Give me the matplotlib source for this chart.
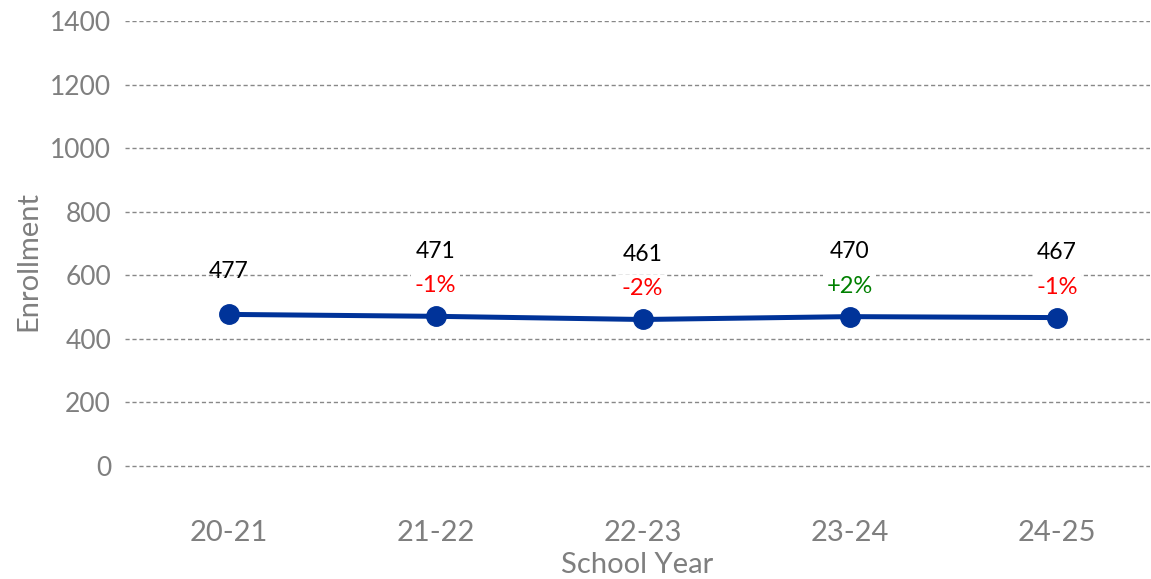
import matplotlib
matplotlib.use("Agg")
import matplotlib.pyplot as plt

years = ["20-21", "21-22", "22-23", "23-24", "24-25"]
enrollment = [477, 471, 461, 470, 467]
pct_change = [None, "-1%", "-2%", "+2%", "-1%"]
pct_colors = [None, "#ff0000", "#ff0000", "#008000", "#ff0000"]
yticks = [0, 200, 400, 600, 800, 1000, 1200, 1400]

plt.rcParams['font.family'] = ['Lato', 'DejaVu Sans']

fig = plt.figure(figsize=(11.51, 5.79), dpi=100)
ax = fig.add_axes([125/1151, 1 - 501/579, 1025/1151, 480/579])

x = list(range(len(years)))
ax.plot(x, enrollment, color="#003399", linewidth=3.6, marker="o", markersize=14, zorder=3)

ax.set_xlim(-0.5, 4.45)
ax.set_ylim(-110, 1400)
ax.set_yticks(yticks)
ax.set_xticks(x)
ax.set_xticklabels(years)
ax.grid(axis="y", linestyle=(0, (3, 2)), color="#888888", linewidth=1)
ax.set_axisbelow(True)
for s in ax.spines.values():
    s.set_visible(False)
ax.tick_params(axis="both", length=0, colors="#7f7f7f")
ax.tick_params(axis="y", pad=10, labelsize=19)
ax.tick_params(axis="x", pad=14, labelsize=21)
ax.set_xlabel("School Year", color="#7f7f7f", fontsize=21, labelpad=4)
ax.set_ylabel("Enrollment", color="#7f7f7f", fontsize=21, labelpad=6)

for i, (v, p, c) in enumerate(zip(enrollment, pct_change, pct_colors)):
    if p is None:
        ax.annotate(str(v), (i, v), xytext=(0, 31), textcoords="offset points",
                    ha="center", va="center", fontsize=16.5, color="black")
    else:
        ax.annotate(str(v), (i, v), xytext=(0, 47), textcoords="offset points",
                    ha="center", va="center", fontsize=16.5, color="black")
        ax.annotate(p, (i, v), xytext=(0, 22), textcoords="offset points",
                    ha="center", va="center", fontsize=17, color=c,
                    bbox=dict(boxstyle="square,pad=0.15", fc="white", ec="none"))

fig.savefig("out.png", dpi=100)
